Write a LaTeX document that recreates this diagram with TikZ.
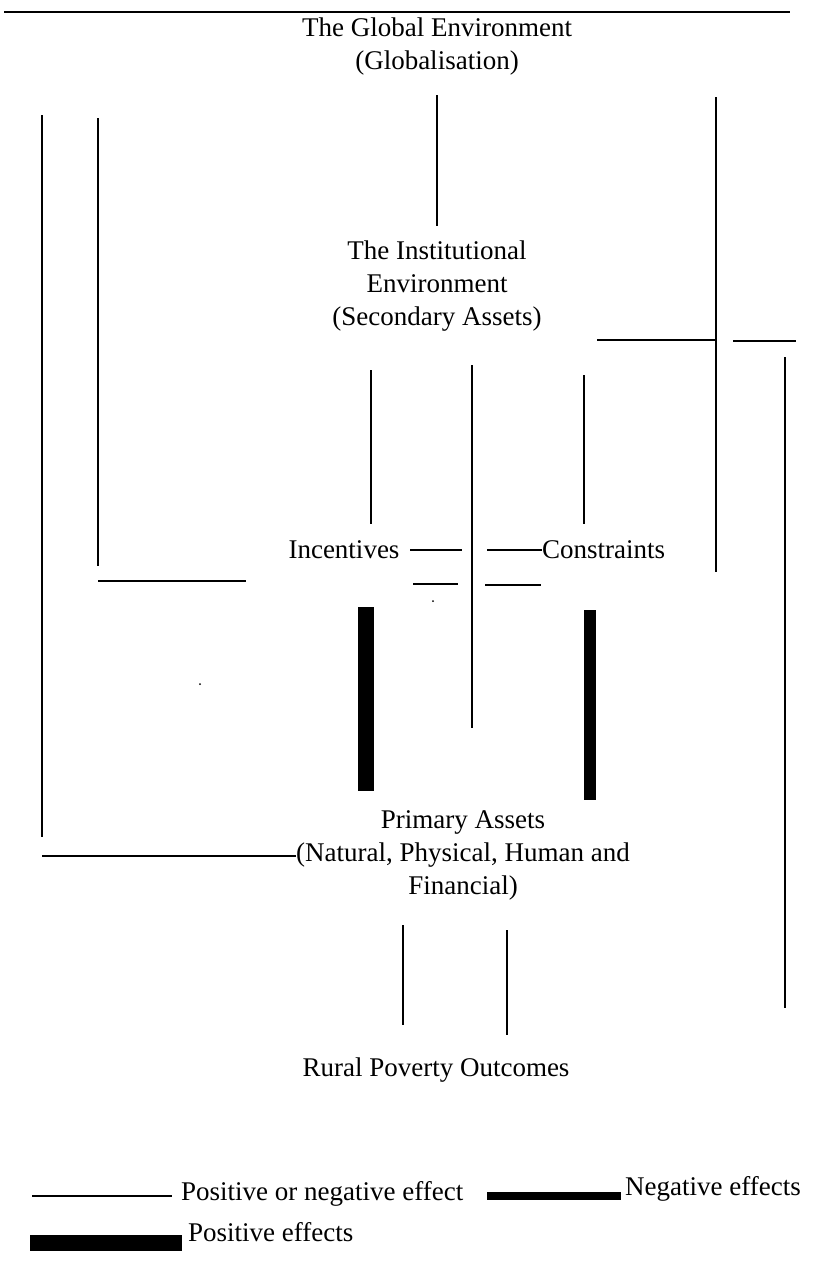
\documentclass[tikz,border=0pt]{standalone}
\usepackage{fontspec}
\setmainfont{Liberation Serif}
\begin{document}
\begin{tikzpicture}[x=1pt,y=-1pt,
  lbl/.style={inner sep=0pt,align=center,font=\fontsize{27}{33}\selectfont},
  lblw/.style={lbl,anchor=west},
  thinline/.style={line width=2pt},
  thickbar/.style={fill=black}]
\useasboundingbox (0,0) rectangle (818,1272);
% text nodes
\node[lbl] (global) at (437,47) {The Global Environment\\(Globalisation)};
\node[lbl] (inst) at (437,286) {The Institutional\\Environment\\(Secondary Assets)};
\node[lbl] (incent) at (344,550) {Incentives};
\node[lblw] (constr) at (542,550) {Constraints};
\node[lbl] (primary) at (463,855) {Primary Assets\\(Natural, Physical, Human and\\Financial)};
\node[lbl] (rural) at (436,1070) {Rural Poverty Outcomes};
\node[lblw] (legA) at (181,1194) {Positive or negative effect};
\node[lblw] (legB) at (625,1189) {Negative effects};
\node[lblw] (legC) at (188,1232) {Positive effects};
% coordinates
\coordinate (top1) at (4,12); \coordinate (top2) at (790,12);
\coordinate (g1) at (437,95); \coordinate (g2) at (437,226);
\coordinate (r1) at (716,97); \coordinate (r2) at (716,572);
\coordinate (l1) at (42,115); \coordinate (l2) at (42,837);
\coordinate (m1) at (98,118); \coordinate (m2) at (98,566);
\coordinate (h1) at (597,340); \coordinate (h2) at (716,340);
\coordinate (h3) at (733,341); \coordinate (h4) at (796,341);
\coordinate (rr1) at (785,357); \coordinate (rr2) at (785,1008);
\coordinate (v1) at (371,370); \coordinate (v2) at (371,524);
\coordinate (c1) at (472,365); \coordinate (c2) at (472,728);
\coordinate (w1) at (584,375); \coordinate (w2) at (584,524);
\coordinate (i1) at (410,550); \coordinate (i2) at (462,550);
\coordinate (k1) at (487,550);
\coordinate (j1) at (413,584); \coordinate (j2) at (458,584);
\coordinate (j3) at (485,585); \coordinate (j4) at (541,585);
\coordinate (b1) at (98,581); \coordinate (b2) at (246,581);
\coordinate (p1) at (42,856);
\coordinate (q1) at (403,925); \coordinate (q2) at (403,1025);
\coordinate (s1) at (507,930); \coordinate (s2) at (507,1035);
\coordinate (lg1) at (32,1196); \coordinate (lg2) at (172,1196);
% thin connectors
\draw[thinline] (top1) -- (top2);
\draw[thinline] (g1) -- (g2);
\draw[thinline] (r1) -- (r2);
\draw[thinline] (l1) -- (l2);
\draw[thinline] (m1) -- (m2);
\draw[thinline] (h1) -- (h2);
\draw[thinline] (h3) -- (h4);
\draw[thinline] (rr1) -- (rr2);
\draw[thinline] (v1) -- (v2);
\draw[thinline] (c1) -- (c2);
\draw[thinline] (w1) -- (w2);
\draw[thinline] (i1) -- (i2);
\draw[thinline] (k1) -- (constr.west);
\draw[line width=2.5pt] (j1) -- (j2);
\draw[thinline] (j3) -- (j4);
\draw[thinline] (b1) -- (b2);
\draw[thinline] (p1) -- (p1 -| primary.west);
\draw[thinline] (q1) -- (q2);
\draw[thinline] (s1) -- (s2);
\draw[thinline] (lg1) -- (lg2);
% thick bars
\fill[thickbar] (358,607) rectangle (374,791);
\fill[thickbar] (584,610) rectangle (596,800);
\fill[thickbar] (487,1192) rectangle (621,1200);
\fill[thickbar] (30,1235) rectangle (182,1251);
% specks
\fill (433,601) circle (1pt);
\fill (200,684) circle (1pt);
\end{tikzpicture}
\end{document}
